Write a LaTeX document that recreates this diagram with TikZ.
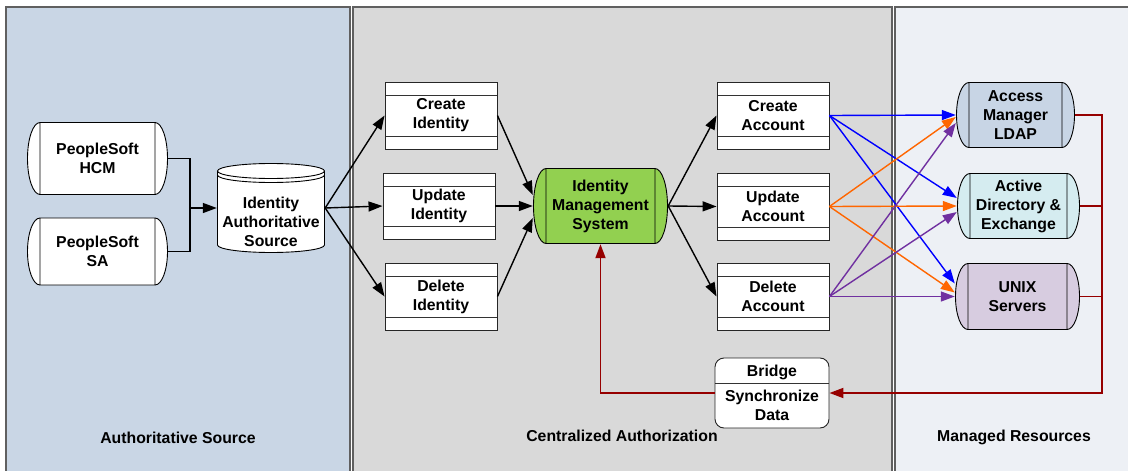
\documentclass[tikz,border=0pt]{standalone}
\usepackage{fontspec}
\setmainfont{Liberation Sans}
\usetikzlibrary{arrows.meta,calc}

\definecolor{srcblue}{RGB}{201,214,229}
\definecolor{midgray}{RGB}{217,217,217}
\definecolor{resgray}{RGB}{237,240,245}
\definecolor{panelline}{RGB}{96,96,96}
\definecolor{imsgreen}{RGB}{146,208,80}
\definecolor{ldapblue}{RGB}{200,213,229}
\definecolor{adcyan}{RGB}{213,236,240}
\definecolor{unixlilac}{RGB}{215,204,224}
\definecolor{syncred}{RGB}{150,0,0}
\definecolor{createblue}{RGB}{0,0,255}
\definecolor{updateorange}{RGB}{255,102,0}
\definecolor{deletepurple}{RGB}{112,48,160}
\newcommand{\boxfont}{\fontsize{15.8}{19}\selectfont\bfseries}

\begin{document}
\begin{tikzpicture}[x = 1pt, y = -1pt]
	% Page size of the reference
	\useasboundingbox (0,0) rectangle (1128,471);

	% Styles for panels, boxes and connectors
	\tikzset{
		panel/.style = {draw = panelline, line width = 1.5pt},
		lbl/.style = {font = \boxfont, inner sep = 0pt},
		band/.style = {draw = black!85, fill = white, line width = 0.9pt, minimum width = 112, minimum height = 67,
			inner sep = 0pt, align = center, font = \boxfont,
			path picture = {\draw[black!80, line width = 0.9pt]
				([yshift = -13pt]path picture bounding box.north west) -- ([yshift = -13pt]path picture bounding box.north east)
				([yshift = 13pt]path picture bounding box.south west) -- ([yshift = 13pt]path picture bounding box.south east);}},
		pill/.style = {inner sep = 0pt, align = center, font = \boxfont,
			path picture = {\draw[fill = #1, line width = 0.9pt]
				let \p1 = (path picture bounding box.south west), \p2 = (path picture bounding box.north east),
				\n1 = {(\y2-\y1)/2-0.5pt} in
				(\x1+13pt,\y2-0.5pt) -- (\x2-13pt,\y2-0.5pt)
				arc[start angle = 90, end angle = -90, x radius = 12.5pt, y radius = \n1*1pt]
				-- (\x1+13pt,\y1+0.5pt)
				arc[start angle = 270, end angle = 90, x radius = 12.5pt, y radius = \n1*1pt] -- cycle
				(\x1+13pt,\y2-0.5pt) -- (\x1+13pt,\y1+0.5pt)
				(\x2-13pt,\y2-0.5pt) -- (\x2-13pt,\y1+0.5pt);}},
		disk/.style = {inner sep = 0pt,
			path picture = {\draw[fill = white, line width = 0.9pt]
				let \p1 = (path picture bounding box.south west), \p2 = (path picture bounding box.north east),
				\n1 = {(\x2-\x1)/2-0.5pt} in
				(\x1+0.5pt,\y2-8pt) -- (\x1+0.5pt,\y1+8pt)
				arc[start angle = 180, end angle = 360, x radius = \n1*1pt, y radius = 7.5pt]
				-- (\x2-0.5pt,\y2-8pt)
				arc[start angle = 0, end angle = 180, x radius = \n1*1pt, y radius = 7.5pt] -- cycle
				(\x1+0.5pt,\y2-8pt) arc[start angle = 180, end angle = 360, x radius = \n1*1pt, y radius = 7.5pt]
				(\x1+0.5pt,\y2-12pt) arc[start angle = 180, end angle = 360, x radius = \n1*1pt, y radius = 7.5pt];}},
		arr/.style = {-{Triangle[length = 14pt, width = 10pt]}, line width = 1.4pt},
		joinline/.style = {line width = 1.4pt},
		sync/.style = {draw = syncred, line width = 1.8pt, -{Triangle[length = 14pt, width = 10pt]}}
	}

	% Draw the three panels
	\draw[panel, fill = srcblue] (6,7) rectangle (350,480);
	\draw[panel, fill = midgray] (353,7) rectangle (892,480);
	\draw[panel, fill = resgray] (895,7) rectangle (1140,480);

	% Panel titles
	\node[lbl] (srclbl) at (178,438) {Authoritative Source};
	\node[lbl] (midlbl) at (622,436) {Centralized Authorization};
	\node[lbl] (reslbl) at (1014,437) {Managed Resources};

	% Authoritative sources
	\node[pill = white, minimum width = 141, minimum height = 73] (hcm) at (97.5,158.5) {PeopleSoft\\HCM};
	\node[pill = white, minimum width = 141, minimum height = 68] (sa) at (97.5,251.5) {PeopleSoft\\SA};
	\node[disk, minimum width = 108, minimum height = 90,
		label = {[lbl, align = center, yshift = -14pt]center:Identity\\Authoritative\\Source}] (src) at (271,208) {};

	% Identity and account operations
	\node[band] (cid) at (441,115.5) {Create\\Identity};
	\node[band, minimum height = 66] (uid) at (439,206) {Update\\Identity};
	\node[band] (did) at (441,296.5) {Delete\\Identity};
	\node[pill = imsgreen, minimum width = 135, minimum height = 76] (ims) at (600.5,206) {Identity\\Management\\System};
	\node[band] (cac) at (773,115.5) {Create\\Account};
	\node[band] (uac) at (773,206.5) {Update\\Account};
	\node[band] (dac) at (773,296.5) {Delete\\Account};
	\node[draw = black!85, fill = white, line width = 0.9pt, rounded corners = 9pt, minimum width = 114, minimum height = 70,
		inner sep = 0pt, align = center, font = \boxfont,
		path picture = {\draw[black!80, line width = 0.9pt]
			([yshift = -25pt]path picture bounding box.north west) -- ([yshift = -25pt]path picture bounding box.north east);}]
		(bridge) at (772,393) {Bridge\\[6pt]Synchronize\\Data};

	% Managed resources
	\node[pill = ldapblue, minimum width = 119, minimum height = 66] (am) at (1015.5,115) {Access\\Manager\\LDAP};
	\node[pill = adcyan, minimum width = 123, minimum height = 66] (ad) at (1018.5,206) {Active\\Directory \&\\Exchange};
	\node[pill = unixlilac, minimum width = 125, minimum height = 67] (ux) at (1017.5,296.5) {UNIX\\Servers};

	% Feed of the sources
	\coordinate (jn) at (190,208);
	\draw[joinline] (hcm.east) -| (jn) |- (sa.east);
	\draw[arr] (jn) -- (src.west);

	% Black flow arrows
	\foreach \n in {cid, uid, did}
		\draw[arr] (src.east) -- (\n.west);
	\draw[arr] (cid.east) -- ([yshift = 11pt]ims.west);
	\draw[arr] (uid.east) -- (ims.west);
	\draw[arr] (did.east) -- ([yshift = -12pt]ims.west);
	\foreach \n in {cac, uac, dac}
		\draw[arr] (ims.east) -- (\n.west);

	% Provisioning arrows
	\draw[arr, createblue] (cac.east) -- (am.west);
	\draw[arr, createblue] (cac.east) -- ([yshift = 8pt]ad.west);
	\draw[arr, createblue] (cac.east) -- ([yshift = 13pt]ux.west);
	\draw[arr, updateorange] (uac.east) -- ([yshift = -2pt]am.west);
	\draw[arr, updateorange] (uac.east) -- (ad.west);
	\draw[arr, updateorange] (uac.east) -- ([yshift = 4pt]ux.west);
	\draw[arr, deletepurple] (dac.east) -- ([yshift = -8pt]am.west);
	\draw[arr, deletepurple] (dac.east) -- ([yshift = -6pt]ad.west);
	\draw[arr, deletepurple] (dac.east) -- (ux.west);

	% Synchronisation back through the bridge
	\coordinate (rj) at (1102,393);
	\draw[sync] (am.east) -| (rj) -- (bridge.east);
	\draw[sync, -] (ad.east) -- (ad.east -| rj);
	\draw[sync, -] (ux.east) -- (ux.east -| rj);
	\draw[sync] (bridge.west) -| (ims.south);
\end{tikzpicture}
\end{document}
